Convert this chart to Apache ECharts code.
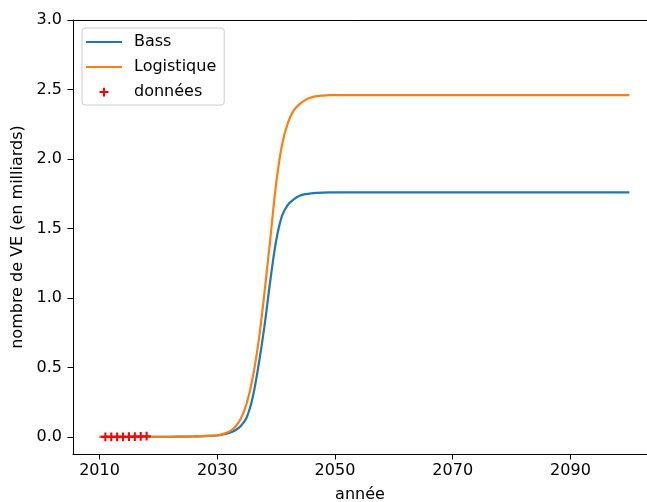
<!DOCTYPE html>
<html>
<head>
<meta charset="utf-8">
<script src="https://cdn.jsdelivr.net/npm/echarts@6/dist/echarts.min.js"></script>
<style>
html,body{margin:0;padding:0;background:#fff;}
#chart{width:647px;height:502px;}
</style>
</head>
<body>
<div id="chart"></div>
<script>
// x positions (years) of the curve points
var curveYears = [2010, 2015, 2020, 2022, 2024, 2026, 2028, 2030, 2031, 2032, 2033, 2034, 2035, 2036, 2037, 2038, 2039, 2040, 2041, 2042, 2043, 2044, 2045, 2046, 2047, 2048, 2049, 2050, 2060, 2070, 2080, 2090, 2100];
// Bass model (billions of EVs)
var bassValues = [0, 0, 0.001, 0.001, 0.002, 0.003, 0.006, 0.010, 0.017, 0.028, 0.046, 0.078, 0.14, 0.28, 0.51, 0.79, 1.12, 1.41, 1.59, 1.67, 1.71, 1.735, 1.747, 1.753, 1.756, 1.758, 1.759, 1.759, 1.759, 1.759, 1.759, 1.759, 1.759];
// Logistic model (billions of EVs)
var logisticValues = [0, 0, 0.001, 0.001, 0.002, 0.004, 0.007, 0.012, 0.022, 0.038, 0.07, 0.13, 0.24, 0.42, 0.68, 1.03, 1.42, 1.82, 2.10, 2.26, 2.35, 2.395, 2.425, 2.443, 2.452, 2.456, 2.459, 2.46, 2.46, 2.46, 2.46, 2.46, 2.46];
// observed data
var dataYears = [2011, 2012, 2013, 2014, 2015, 2016, 2017, 2018];
var dataValues = [0.00005, 0.00018, 0.00038, 0.0007, 0.0012, 0.002, 0.0031, 0.0051];
// ticks
var xTicks = [2010, 2030, 2050, 2070, 2090];
var yTicks = [0, 0.5, 1.0, 1.5, 2.0, 2.5, 3.0];

function pairs(xs, ys) { return xs.map(function (x, i) { return [x, ys[i]]; }); }

var FONT = 'DejaVu Sans';
var plusPath = 'path://M-3,-3M13,13M0,3.8H10V6.2H0ZM3.8,0H6.2V10H3.8Z';
var linePath = 'path://M0,0H36V2.2H0Z';

var chart = echarts.init(document.getElementById('chart'), null, {renderer: 'canvas'});
chart.setOption({
  animation: false,
  backgroundColor: '#ffffff',
  grid: {left: 73, right: 0, top: 20, bottom: 48, containLabel: false, outerBoundsMode: 'none'},
  legend: {
    orient: 'vertical',
    left: 82, top: 28,
    padding: [6, 8, 5, 4],
    itemWidth: 36, itemHeight: 14, itemGap: 9,
    backgroundColor: 'rgba(255,255,255,0.8)',
    borderColor: '#cccccc', borderWidth: 1, borderRadius: 3,
    textStyle: {fontFamily: FONT, fontSize: 16, color: '#000', padding: [0, 0, 0, 7]},
    data: [{name: 'Bass', icon: linePath}, {name: 'Logistique', icon: linePath}, {name: 'données', icon: plusPath}]
  },
  xAxis: [{
    type: 'value', min: 2005.5, max: 2103.0, position: 'bottom',
    name: 'année', nameLocation: 'middle', nameGap: 33,
    nameTextStyle: {fontFamily: FONT, fontSize: 16, color: '#000'},
    axisLine: {show: true, onZero: false, lineStyle: {color: '#000', width: 1}},
    axisTick: {show: true, length: 5.5, lineStyle: {color: '#000', width: 1}, customValues: xTicks},
    axisLabel: {fontFamily: FONT, fontSize: 16, color: '#000', margin: 9, customValues: xTicks,
      formatter: function (v) { return String(Math.round(v)); }},
    splitLine: {show: false}
  }, {
    type: 'value', min: 2005.5, max: 2103.0, position: 'top',
    axisLine: {show: true, onZero: false, lineStyle: {color: '#000', width: 1}},
    axisTick: {show: false}, axisLabel: {show: false}, splitLine: {show: false}
  }],
  yAxis: {
    type: 'value', min: -0.123, max: 3.0,
    name: 'nombre de VE (en milliards)', nameLocation: 'middle', nameGap: 40,
    nameTextStyle: {fontFamily: FONT, fontSize: 16, color: '#000'},
    axisLine: {show: true, onZero: false, lineStyle: {color: '#000', width: 1}},
    axisTick: {show: true, length: 5.5, lineStyle: {color: '#000', width: 1}, customValues: yTicks},
    axisLabel: {fontFamily: FONT, fontSize: 16, color: '#000', margin: 11, customValues: yTicks,
      formatter: function (v) { return v.toFixed(1); }},
    splitLine: {show: false}
  },
  series: [{
    name: 'Bass', type: 'line', data: pairs(curveYears, bassValues),
    symbol: 'none', smooth: 0.35,
    lineStyle: {color: '#1f77b4', width: 2.2}, itemStyle: {color: '#1f77b4'}, z: 2
  }, {
    name: 'Logistique', type: 'line', data: pairs(curveYears, logisticValues),
    symbol: 'none', smooth: 0.35,
    lineStyle: {color: '#ff7f0e', width: 2.2}, itemStyle: {color: '#ff7f0e'}, z: 3
  }, {
    name: 'données', type: 'scatter', data: pairs(dataYears, dataValues),
    symbol: plusPath, symbolSize: 14, symbolKeepAspect: true,
    itemStyle: {color: '#ff0000', opacity: 1}, z: 4
  }]
});
</script>
</body>
</html>
